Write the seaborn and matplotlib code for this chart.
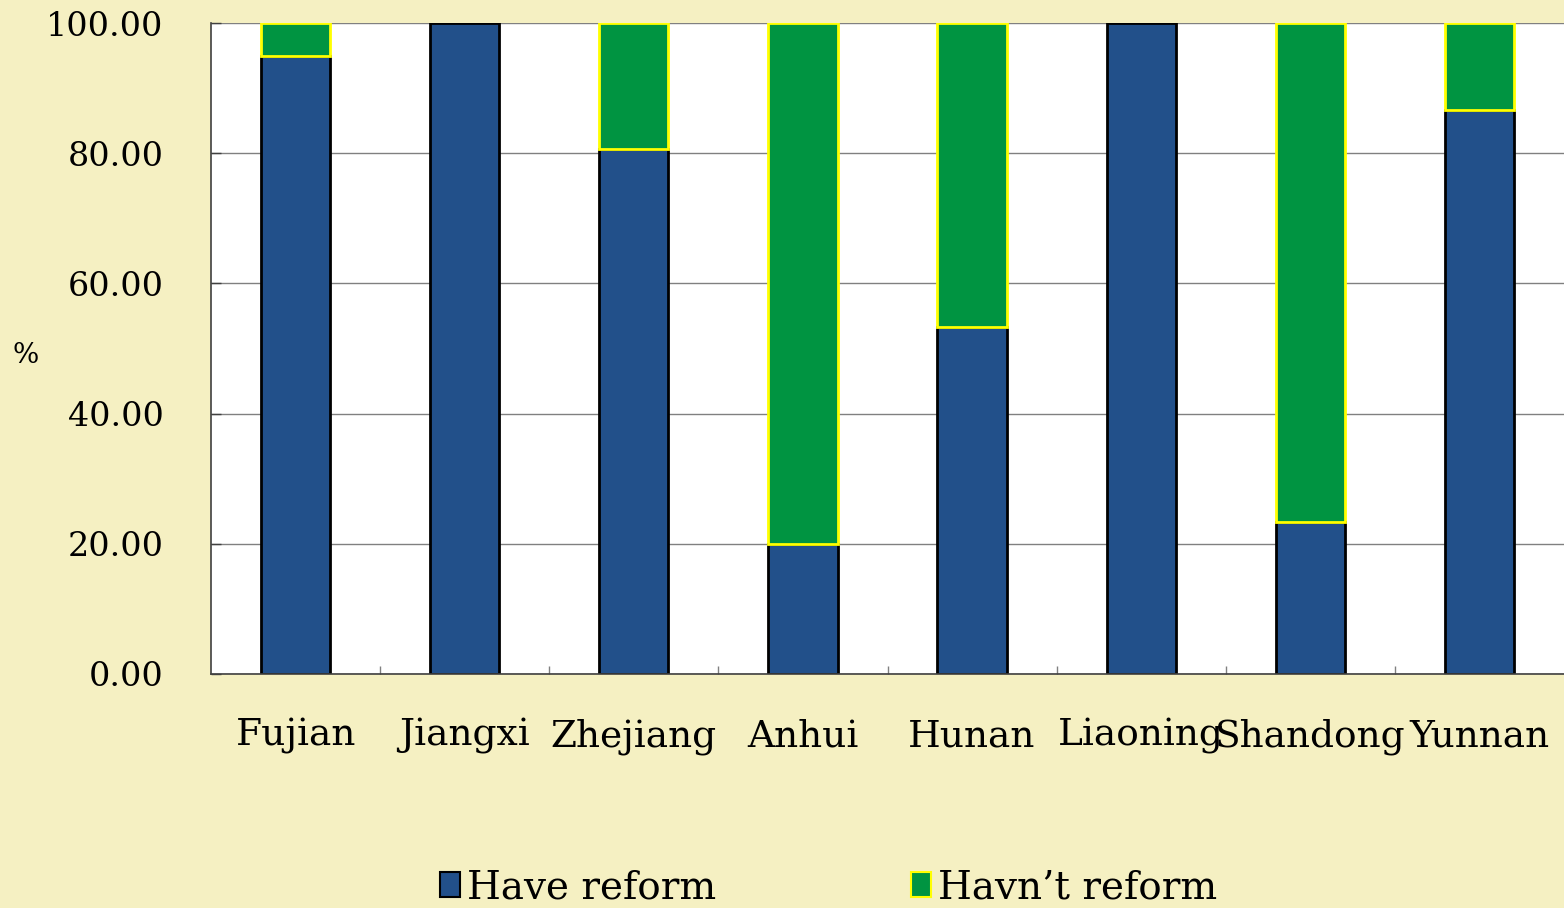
import numpy as np
import pandas as pd
import matplotlib
matplotlib.use("Agg")
import matplotlib.pyplot as plt
from matplotlib.patches import Patch
import seaborn as sns

# ── Data ─────────────────────────────────────────────────────────────
provinces = ["Fujian", "Jiangxi", "Zhejiang", "Anhui",
             "Hunan", "Liaoning", "Shandong", "Yunnan"]
have_reform = [95.0, 100.0, 80.6, 20.0, 53.3, 100.0, 23.3, 86.7]
havnt_reform = [5.0, 0.0, 19.4, 80.0, 46.7, 0.0, 76.7, 13.3]
series_labels = ["Have reform", "Havn\u2019t reform"]
y_ticks = [0, 20, 40, 60, 80, 100]

BG = "#F5F0C2"
BLUE = "#22508A"
GREEN = "#009441"

sns.set_theme(style="white")
plt.rcParams["font.family"] = ["DejaVu Serif", "DejaVu Sans"]
plt.rcParams["text.color"] = "black"
plt.rcParams["xtick.color"] = "black"
plt.rcParams["ytick.color"] = "black"
plt.rcParams["axes.labelcolor"] = "black"

df = pd.DataFrame({"province": provinces,
                   "have": have_reform,
                   "havnt": havnt_reform})

fig = plt.figure(figsize=(15.64, 9.08), dpi=100, facecolor=BG)
ax = fig.add_axes([211 / 1564, 1 - 674 / 908, 1 - 211 / 1564, (674 - 23) / 908])
ax.set_facecolor("white")

# blue bottom segment, green stacked on top of it
sns.barplot(data=df, x="province", y="have", color=BLUE, saturation=1,
            width=0.41, edgecolor="black", linewidth=2.0, ax=ax)
n_first = len(ax.patches)
sns.barplot(data=df, x="province", y="havnt", color=GREEN, saturation=1,
            width=0.41, edgecolor="#FFFF00", linewidth=2.0,
            bottom=df["have"].to_numpy(), ax=ax)
for p in ax.patches[n_first:]:
    if p.get_height() == 0:
        p.set_linewidth(0)

ax.set_xlim(-0.5, 7.5)
ax.set_ylim(0, 100)
ax.set_yticks(y_ticks)
ax.set_yticklabels([f"{v:.2f}" for v in y_ticks], fontsize=24)
ax.yaxis.grid(True, color="#808080", linewidth=1.0)
ax.set_axisbelow(True)

ax.set_xticks(range(len(provinces)))
ax.set_xticklabels(provinces, fontsize=27)
ax.set_xticks(np.arange(0.5, 7.5, 1.0), minor=True)
ax.tick_params(axis="x", which="major", length=0, pad=32)
ax.tick_params(axis="x", which="minor", direction="in", length=6,
               width=1, color="#808080", bottom=True)
ax.tick_params(axis="y", direction="in", length=7, width=1,
               color="#404040", pad=34, left=True)

ax.set_xlabel("")
ax.set_ylabel("%", rotation=0, fontsize=20, va="center", ha="center")
ax.yaxis.set_label_coords(-0.137, 0.49)

for side in ["top", "right"]:
    ax.spines[side].set_visible(False)
ax.spines["left"].set_color("#404040")
ax.spines["bottom"].set_color("#404040")
ax.spines["left"].set_linewidth(1.2)
ax.spines["bottom"].set_linewidth(1.2)

handles = [Patch(facecolor=BLUE, edgecolor="black", linewidth=1.5),
           Patch(facecolor=GREEN, edgecolor="#FFFF00", linewidth=1.5)]
fig.legend(handles, series_labels, loc="center", bbox_to_anchor=(0.53, 0.022),
           ncol=2, frameon=False, fontsize=28, handlelength=0.5,
           handleheight=0.6, handletextpad=0.2, columnspacing=5.0)

fig.savefig("out.png", dpi=100, facecolor=BG)
